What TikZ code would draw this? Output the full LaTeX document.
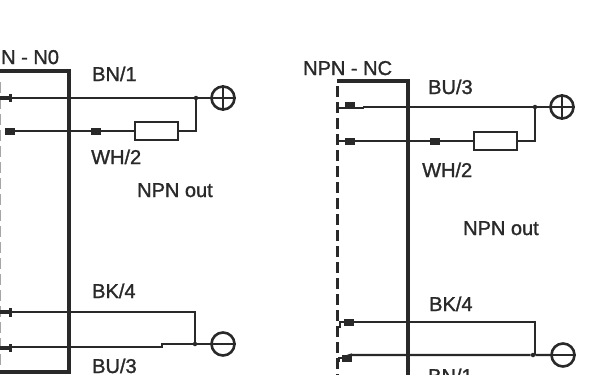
\documentclass[tikz,border=0pt]{standalone}
\usepackage{fontspec}
\setmainfont{Liberation Sans}
\newfontfamily\lblfont[FakeBold=1.3]{Liberation Sans}
\definecolor{ink}{gray}{0.16}
\tikzset{
  lbl/.style={inner sep=0pt,font=\lblfont\fontsize{20}{20}\selectfont,text=ink,anchor=base west},
  wire/.style={draw=ink,line width=2.1pt},
  housing/.style={draw=ink,line width=4pt,line cap=butt},
  sep/.style={draw=ink,line width=2.4pt,dash pattern=on 11pt off 5pt},
  res/.style={draw=ink,line width=2pt,fill=white,minimum width=43pt,minimum height=18pt,inner sep=0pt},
  term/.style={draw=ink,line width=2.6pt,fill=white,circle,minimum size=23pt,inner sep=0pt},
  pin/.style={fill=ink,minimum width=10pt,minimum height=7pt,inner sep=0pt},
  jt/.style={fill=ink,circle,minimum size=4.5pt,inner sep=0pt}
}
\begin{document}
\begin{tikzpicture}[x=1pt,y=-1pt]
\useasboundingbox (0,0) rectangle (614,375);
% left panel
\draw[sep,draw=gray!70,line width=1.2pt] (0.6,82) -- (0.6,372);
\coordinate (Lh1) at (-3,71); \coordinate (Lh2) at (69,71); \coordinate (Lh3) at (69,372); \coordinate (Lh4) at (-3,372);
\draw[housing] (Lh1) -- (Lh2) -- (Lh3) -- (Lh4);
\node[term] (Lp) at (223,98) {};
\node[term] (Lm) at (223,344) {};
\node[res] (Lr) at (156,131) {};
\node[pin] (La) at (10,131) {};
\node[pin] (Lb) at (96,131) {};
\node[pin,minimum width=11pt,minimum height=4pt] (Lc) at (5,98) {};
\node[pin,minimum width=11pt,minimum height=4pt] (Ld) at (5,312) {};
\node[pin,minimum width=11pt,minimum height=4pt] (Le) at (5,348) {};
\node[jt] (Lj1) at (196,98) {};
\node[jt] (Lj2) at (195,344) {};
\coordinate (Lc1) at (12,98); \coordinate (Ld1) at (12,312); \coordinate (Le1) at (12,347);
\draw[wire] (Lc1) -- (Lj1) -- (Lp.west);
\draw[wire] (La) -- (Lb) -- (Lr.west);
\draw[wire] (Lr.east) -| (Lj1);
\draw[wire] (Ld1) -| (Lj2);
\draw[wire] (Le1) -- (162,347) -- (162,344) -- (Lj2) -- (Lm.west);
\draw[draw=ink,line width=2.6pt] (10.5,94) -- (10.5,102) (10.5,308) -- (10.5,317) (10.5,344) -- (10.5,352);
\draw[wire] (Lp.west) -- (Lp.east) (Lp.north) -- (Lp.south);
\draw[wire] (Lm.west) -- (Lm.east);
\node[lbl] (t1) at (1,64) {N - N0};
\node[lbl] (t2) at (92,81) {BN/1};
\node[lbl] (t3) at (91,164) {WH/2};
\node[lbl] (t4) at (137,197) {NPN out};
\node[lbl] (t5) at (92,298) {BK/4};
\node[lbl] (t6) at (92,373) {BU/3};
% right panel
\coordinate (Rh1) at (337,81); \coordinate (Rh2) at (408,81); \coordinate (Rh3) at (408,375);
\draw[housing] (Rh1) -- (Rh2) -- (Rh3);
\draw[sep] (337.5,86) -- (337.5,375);
\node[term] (Rp) at (562,107) {};
\node[term] (Rm) at (563,355) {};
\node[res] (Rr) at (495,141) {};
\node[pin] (Ra) at (350,141) {};
\node[pin] (Rb) at (435,141) {};
\node[pin] (Rc) at (350,105) {};
\node[pin] (Rd) at (349,322) {};
\node[pin] (Re) at (347,358) {};
\node[jt] (Rj1) at (535,107) {};
\node[jt] (Rj2) at (533,355) {};
\coordinate (Rc0) at (339,108); \coordinate (Rc1) at (364,108); \coordinate (Rc2) at (364,107);
\coordinate (Ra0) at (339,141); \coordinate (Rd0) at (340,328); \coordinate (Re0) at (339,362);
\draw[draw=ink,line width=2.8pt] (Rc0) -- (Rc1);
\draw[wire] (Rc1) -- (Rc2) -- (Rj1) -- (Rp.west);
\draw[wire] (Ra0) -- (Ra) -- (Rb) -- (Rr.west);
\draw[wire] (Rr.east) -| (Rj1);
\draw[wire] (Rd) -| (535,355);
\draw[wire] (Re.north east) -- (350,355) -- (Rj2) -- (Rm.west);
\draw[wire] (Rd0) |- (Rd.west);
\draw[wire] (Re0) |- (Re.west);
\draw[wire] (Rp.west) -- (Rp.east) (Rp.north) -- (Rp.south);
\draw[wire] (Rm.west) -- (Rm.east);
\node[lbl] (u1) at (303,75) {NPN - NC};
\node[lbl] (u2) at (428,94) {BU/3};
\node[lbl] (u3) at (422,177) {WH/2};
\node[lbl] (u4) at (463,235) {NPN out};
\node[lbl] (u5) at (429,311) {BK/4};
\node[lbl] (u6) at (428,383) {BN/1};
\end{tikzpicture}
\end{document}
